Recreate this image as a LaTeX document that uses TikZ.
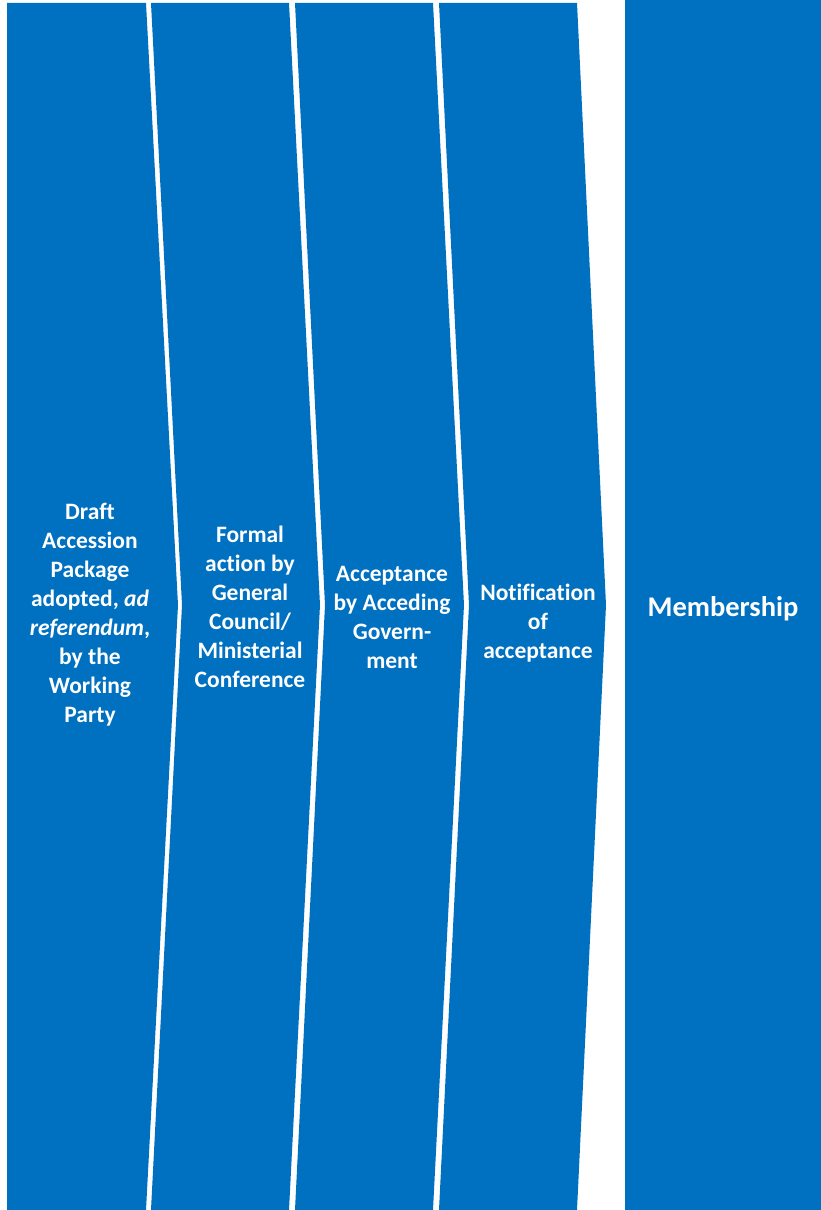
\documentclass[tikz,border=0pt]{standalone}
\usepackage{fontspec}
\setmainfont{Carlito}[Ligatures=CommonOff]
\usepackage{tikz}
\usetikzlibrary{positioning}

\definecolor{wtoblue}{HTML}{0070C0}

\tikzset{
  stage/.style={fill=wtoblue, draw=none},
  stagetext/.style={text=white, align=center, font=\bfseries\fontsize{23.5}{29}\selectfont, inner sep=0pt},
  goaltext/.style={text=white, align=center, font=\bfseries\fontsize{28.5}{33}\selectfont, inner sep=0pt}
}

\begin{document}
\begin{tikzpicture}[x=1pt, y=1pt]
\useasboundingbox[fill=white] (0,0) rectangle (821,1210);

% the four steps
\fill[stage] (7,1207) -- (146,1207) -- (178,605) -- (146,0) -- (7,0) -- cycle;
\fill[stage] (151,1207) -- (289,1207) -- (320,605) -- (289,0) -- (151,0) -- (182,605) -- cycle;
\fill[stage] (295,1207) -- (433,1207) -- (464,605) -- (433,0) -- (295,0) -- (325,605) -- cycle;
\fill[stage] (439,1207) -- (577,1207) -- (606,605) -- (577,0) -- (439,0) -- (469,605) -- cycle;

% the goal
\fill[stage] (625,0) rectangle (821,1210);

\node (draft) [stagetext] at (90,595) {Draft\\Accession\\Package\\adopted, \textit{ad}\\\textit{referendum},\\by the\\Working\\Party};
\node (formal) [stagetext] at (250,603) {Formal\\action by\\General\\Council/\\Ministerial\\Conference};
\node (accept) [stagetext] at (392,593) {Acceptance\\by Acceding\\Govern-\\ment};
\node (notify) [stagetext] at (538,587) {Notification\\of\\acceptance};
\node (member) [goaltext] at (723,601) {Membership};
\end{tikzpicture}
\end{document}
